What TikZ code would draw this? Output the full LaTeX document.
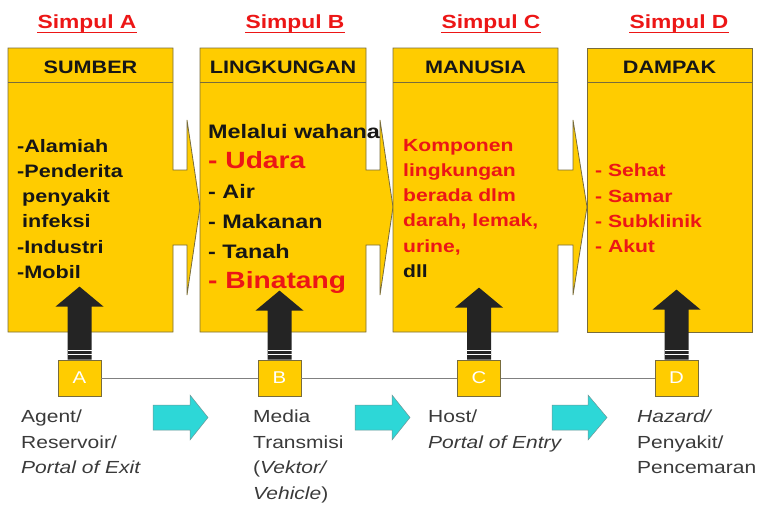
\documentclass[tikz,border=0pt]{standalone}
\usepackage{fontspec}
\setmainfont{Liberation Sans}[FakeStretch=1.2]
\usetikzlibrary{positioning}

\definecolor{boxyellow}{RGB}{255,204,0}
\definecolor{boxborder}{RGB}{120,108,60}
\definecolor{simred}{RGB}{236,22,22}
\definecolor{inkblack}{RGB}{22,22,22}
\definecolor{capgray}{RGB}{58,58,58}
\definecolor{flowcyan}{RGB}{45,215,215}
\definecolor{flowedge}{RGB}{110,150,150}
\definecolor{arrowblack}{RGB}{36,36,36}

% fat black arrow from a small box up into the big box
\newcommand{\fatup}[2]{%
\fill[arrowblack] ([xshift=-12pt]#1.north) -- ([xshift=-12pt,yshift=-20pt]#2) -- ([xshift=-24pt,yshift=-20pt]#2) -- (#2) -- ([xshift=24pt,yshift=-20pt]#2) -- ([xshift=12pt,yshift=-20pt]#2) -- ([xshift=12pt]#1.north) -- cycle;
\draw[white,line width=0.7pt] ([xshift=-12pt,yshift=5pt]#1.north) -- ([xshift=12pt,yshift=5pt]#1.north);
\draw[white,line width=0.7pt] ([xshift=-12pt,yshift=9pt]#1.north) -- ([xshift=12pt,yshift=9pt]#1.north);}

\begin{document}
\begin{tikzpicture}[x=1pt,y=-1pt,
  bigbox/.style={fill=boxyellow,draw=boxborder,line width=0.8pt},
  boxline/.style={draw=boxborder,line width=0.8pt},
  title/.style={font=\fontsize{19}{23}\selectfont\bfseries,text=simred,inner sep=0pt,anchor=base},
  ulined/.style={draw=simred,line width=1.3pt},
  header/.style={font=\fontsize{18}{22}\selectfont\bfseries,text=inkblack,inner sep=0pt,anchor=base},
  body/.style={font=\fontsize{18}{25.2}\selectfont\bfseries,text=inkblack,inner sep=0pt,anchor=north west,align=left},
  smallbox/.style={draw=boxborder,fill=boxyellow,line width=0.8pt,minimum width=43pt,minimum height=36pt,inner sep=0pt,text=white,font=\fontsize{17}{20}\selectfont},
  caption/.style={font=\fontsize{17.5}{25.5}\selectfont,text=capgray,inner sep=0pt,anchor=north west,align=left},
  flowarrow/.style={fill=flowcyan,draw=flowedge,line width=0.5pt},
  link/.style={draw=gray,line width=0.9pt}]
\useasboundingbox (0,0) rectangle (760,507);

% big boxes, drawn left to right so the next box hides the tip
\draw[bigbox] (8,48) -- (173,48) -- (173,170) -- (187,170) -- (187,120) -- (200,207) -- (187,295) -- (187,245) -- (173,245) -- (173,332) -- (8,332) -- cycle;
\draw[bigbox] (200,48) -- (366,48) -- (366,170) -- (380,170) -- (380,120) -- (393,207) -- (380,295) -- (380,245) -- (366,245) -- (366,332) -- (200,332) -- cycle;
\draw[bigbox] (393,48) -- (558,48) -- (558,170) -- (573,170) -- (573,120) -- (587,207) -- (573,295) -- (573,245) -- (558,245) -- (558,332) -- (393,332) -- cycle;
\draw[bigbox] (587,48) rectangle (752,332);
\draw[boxline] (8,82) -- (173,82);
\draw[boxline] (200,82) -- (366,82);
\draw[boxline] (393,82) -- (558,82);
\draw[boxline] (587,82) -- (752,82);

% titles
\node[title] (simA) at (87,28) {Simpul A};
\node[title] (simB) at (295,28) {Simpul B};
\node[title] (simC) at (491,28) {Simpul C};
\node[title] (simD) at (679,28) {Simpul D};
\draw[ulined] ([yshift=-4.5pt]simA.base west) -- ([yshift=-4.5pt]simA.base east);
\draw[ulined] ([yshift=-4.5pt]simB.base west) -- ([yshift=-4.5pt]simB.base east);
\draw[ulined] ([yshift=-4.5pt]simC.base west) -- ([yshift=-4.5pt]simC.base east);
\draw[ulined] ([yshift=-4.5pt]simD.base west) -- ([yshift=-4.5pt]simD.base east);

% headers
\node[header] (hdA) at (90.5,73) {SUMBER};
\node[header] (hdB) at (283,73) {LINGKUNGAN};
\node[header] (hdC) at (475.5,73) {MANUSIA};
\node[header] (hdD) at (669.5,73) {DAMPAK};

% box contents
\node[body] (txA) at (17,139) {-Alamiah\\-Penderita\\\hspace*{5pt}penyakit\\\hspace*{5pt}infeksi\\-Industri\\-Mobil};
\node[body,font=\fontsize{19.5}{30}\selectfont\bfseries] (txB) at (208,124) {Melalui wahana\\{\color{simred}\fontsize{23.5}{30}\selectfont - Udara}\\- Air\\- Makanan\\- Tanah\\{\color{simred}\fontsize{23.5}{30}\selectfont - Binatang}};
\node[body,font=\fontsize{17.6}{25.2}\selectfont\bfseries,text=simred] (txC) at (403,139) {Komponen\\lingkungan\\berada dlm\\darah, lemak,\\urine,\\{\color{inkblack}dll}};
\node[body,font=\fontsize{17.6}{25.3}\selectfont\bfseries,text=simred] (txD) at (595,164) {- Sehat\\- Samar\\- Subklinik\\- Akut};

% small letter boxes on the line
\node[smallbox] (sA) at (79.5,378) {A};
\node[smallbox] (sB) at (279.5,378) {B};
\node[smallbox] (sC) at (479,378) {C};
\node[smallbox] (sD) at (676.5,378) {D};
\draw[link] (sA) -- (sB);
\draw[link] (sB) -- (sC);
\draw[link] (sC) -- (sD);

% fat arrows into the boxes
\coordinate (tA) at ([yshift=73pt]sA.north);
\coordinate (tB) at ([yshift=69pt]sB.north);
\coordinate (tC) at ([yshift=72pt]sC.north);
\coordinate (tD) at ([yshift=70pt]sD.north);
\fatup{sA}{tA}
\fatup{sB}{tB}
\fatup{sC}{tC}
\fatup{sD}{tD}

% cyan flow arrows
\filldraw[flowarrow] (153,405) -- (190,405) -- (190,395) -- (208,417.5) -- (190,440) -- (190,430) -- (153,430) -- cycle;
\filldraw[flowarrow] (355,405) -- (392,405) -- (392,395) -- (410,417.5) -- (392,440) -- (392,430) -- (355,430) -- cycle;
\filldraw[flowarrow] (552,405) -- (588,405) -- (588,395) -- (607,417.5) -- (588,440) -- (588,430) -- (552,430) -- cycle;

% captions
\node[caption] (cpA) at (21,410) {Agent/\\Reservoir/\\\textit{Portal of Exit}};
\node[caption] (cpB) at (253,410) {Media\\Transmisi\\(\textit{Vektor/}\\\textit{Vehicle})};
\node[caption] (cpC) at (428,410) {Host/\\\textit{Portal of Entry}};
\node[caption] (cpD) at (637,410) {\textit{Hazard/}\\Penyakit/\\Pencemaran};
\end{tikzpicture}
\end{document}
